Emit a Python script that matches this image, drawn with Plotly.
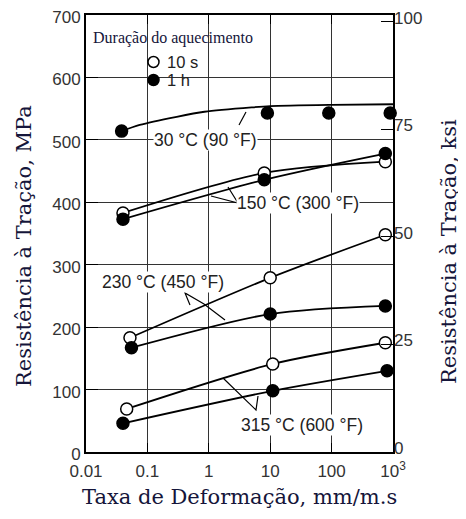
import plotly.graph_objects as go

# ---------------- data ----------------
rate_ticks = [0.01, 0.1, 1, 10, 100, 1000]
rate_tick_text = ["0.01", "0.1", "1", "10", "100", "10<sup>3</sup>"]
mpa_ticks = [0, 100, 200, 300, 400, 500, 600, 700]
ksi_ticks = [0, 25, 50, 75, 100]

# 30 C (90 F) - 1 h points and fitted curve
t30_1h_x = [0.038, 9, 90, 900]
t30_1h_y = [514, 543, 543, 543]
t30_curve_x = [0.038, 0.075, 0.3, 0.85, 5, 10, 100, 1000]
t30_curve_y = [514, 524, 537, 545, 552, 554, 556, 557]

# 150 C (300 F)
t150_10s_x = [0.04, 8, 750]
t150_10s_y = [383, 447, 465]
t150_1h_x = [0.04, 8, 750]
t150_1h_y = [373, 436, 478]

# 230 C (450 F)
t230_10s_x = [0.052, 10, 750]
t230_10s_y = [183, 279, 348]
t230_1h_x = [0.055, 10, 750]
t230_1h_y = [167, 221, 234]

# 315 C (600 F)
t315_10s_x = [0.046, 11, 750]
t315_10s_y = [69, 141, 175]
t315_1h_x = [0.04, 11, 800]
t315_1h_y = [46, 98, 130]

MPA_PER_KSI = 6.895

# ---------------- layout helpers ----------------
OFF = 8                      # page body margin of the browser
W, H = 466 - OFF, 519 - OFF
PL, PR, PT, PB = 86, 393, 15, 452   # plot area in screenshot pixels


def px(x):
    return (x - PL) / (PR - PL)


def py(y):
    return (PB - y) / (PB - PT)


fig = go.Figure()

LINE = dict(color="black", width=1.8, shape="spline", smoothing=0.8)


def curve(x, y):
    fig.add_trace(go.Scatter(x=x, y=y, mode="lines", line=LINE,
                             hoverinfo="skip", showlegend=False))


def points(x, y, filled):
    fig.add_trace(go.Scatter(
        x=x, y=y, mode="markers", showlegend=False, cliponaxis=False,
        marker=dict(size=12, color="black" if filled else "white",
                    line=dict(color="black", width=1.5))))


curve(t30_curve_x, t30_curve_y)
for xs, ys in [(t150_10s_x, t150_10s_y), (t150_1h_x, t150_1h_y),
               (t230_10s_x, t230_10s_y), (t230_1h_x, t230_1h_y),
               (t315_10s_x, t315_10s_y), (t315_1h_x, t315_1h_y)]:
    curve(xs, ys)

points(t30_1h_x, t30_1h_y, True)
points(t150_10s_x, t150_10s_y, False)
points(t150_1h_x, t150_1h_y, True)
points(t230_10s_x, t230_10s_y, False)
points(t230_1h_x, t230_1h_y, True)
points(t315_10s_x, t315_10s_y, False)
points(t315_1h_x, t315_1h_y, True)

# invisible trace to activate the right axis
fig.add_trace(go.Scatter(x=[0.01], y=[0], yaxis="y2", mode="markers",
                         marker=dict(opacity=0), showlegend=False,
                         hoverinfo="skip"))

TICKFONT = dict(family="Liberation Sans, Arial", size=17, color="#333")
TITLEFONT = dict(family="DejaVu Serif", size=21, color="#15153a")
LABELFONT = dict(family="Liberation Sans, Arial", size=17.5, color="#222")
LEGFONT = dict(family="Liberation Sans, Arial", size=16.5, color="#222")

shapes = []
# white area behind the legend block (hides grid there)
shapes.append(dict(type="rect", xref="paper", yref="paper",
                   x0=px(88), x1=px(257), y0=py(95), y1=py(16),
                   fillcolor="white", line=dict(width=0), layer="between"))
# legend symbols
for cy, fill in [(62, "white"), (80, "black")]:
    shapes.append(dict(type="circle", xref="paper", yref="paper",
                       x0=px(148), x1=px(159), y0=py(cy + 5.5), y1=py(cy - 5.5),
                       fillcolor=fill, line=dict(color="black", width=1.5)))


def leader(pts):
    p = "M " + " L ".join(f"{px(a):.5f},{py(b):.5f}" for a, b in pts)
    shapes.append(dict(type="path", xref="paper", yref="paper", path=p,
                       line=dict(color="black", width=1.2)))


leader([(239, 125), (246, 112)])                 # 30 C
leader([(211, 196), (238, 203), (228, 187)])     # 150 C
leader([(190, 305), (185, 293), (204, 304), (225, 320)])  # 230 C
leader([(223, 378), (256, 410), (258, 396)])     # 315 C

annotations = []


def label(text, x, y, font=LABELFONT, bg="white", xanchor="center"):
    annotations.append(dict(text=text, xref="paper", yref="paper",
                            x=px(x), y=py(y), xanchor=xanchor, yanchor="middle",
                            showarrow=False, font=font, bgcolor=bg,
                            borderpad=0))


label("30 °C (90 °F)", 205, 140)
label("150 °C (300 °F)", 298, 203)
label("230 °C (450 °F)", 163, 282)
label("315 °C (600 °F)", 302, 425)
label("Duração do aquecimento", 92, 38,
      font=dict(family="Liberation Serif", size=16, color="#15153a"),
      bg=None, xanchor="left")
label("10 s", 166, 62, font=LEGFONT, bg=None, xanchor="left")
label("1 h", 166, 80, font=LEGFONT, bg=None, xanchor="left")

# axis titles
annotations.append(dict(text="Resistência à Tração, MPa", xref="paper",
                        yref="paper", x=px(24), y=py(246), textangle=-90,
                        showarrow=False, font=TITLEFONT,
                        xanchor="center", yanchor="middle"))
annotations.append(dict(text="Resistência à Tração, ksi", xref="paper",
                        yref="paper", x=px(449), y=py(252), textangle=-90,
                        showarrow=False, font=TITLEFONT,
                        xanchor="center", yanchor="middle"))
annotations.append(dict(text="Taxa de Deformação, mm/m.s", xref="paper",
                        yref="paper", x=px(239), y=py(497),
                        showarrow=False, font=TITLEFONT,
                        xanchor="center", yanchor="middle"))

fig.update_layout(
    width=W, height=H,
    margin=dict(l=PL - OFF, r=466 - PR, t=PT - OFF, b=519 - PB, pad=0,
                autoexpand=False),
    paper_bgcolor="white", plot_bgcolor="white",
    showlegend=False,
    xaxis=dict(type="log", range=[-2, 3], tickvals=rate_ticks,
               ticktext=rate_tick_text, showgrid=True, gridcolor="#333",
               gridwidth=1.2, ticks="inside", ticklen=9, tickwidth=1.3,
               tickcolor="black", mirror="ticks", showline=True,
               linecolor="black", linewidth=2, tickfont=TICKFONT,
               zeroline=False, automargin=False, ticklabelstandoff=3),
    yaxis=dict(range=[0, 700], tickvals=mpa_ticks, showgrid=True,
               gridcolor="#333", gridwidth=1.2, ticks="inside", ticklen=12,
               tickwidth=1.3, tickcolor="black", showline=True, mirror=True,
               linecolor="black", linewidth=2, tickfont=TICKFONT,
               zeroline=False, ticklabeloverflow="allow",
               ticklabelshift=2, automargin=False),
    yaxis2=dict(range=[0, 700 / MPA_PER_KSI], tickvals=ksi_ticks,
                overlaying="y", side="right", showgrid=False,
                ticks="inside", ticklen=12, tickwidth=1.3, tickcolor="black",
                showline=False, tickfont=TICKFONT, zeroline=False,
                ticklabelshift=-4, ticklabeloverflow="allow",
                automargin=False),
    shapes=shapes,
    annotations=annotations,
)

fig.write_html("out.html")
